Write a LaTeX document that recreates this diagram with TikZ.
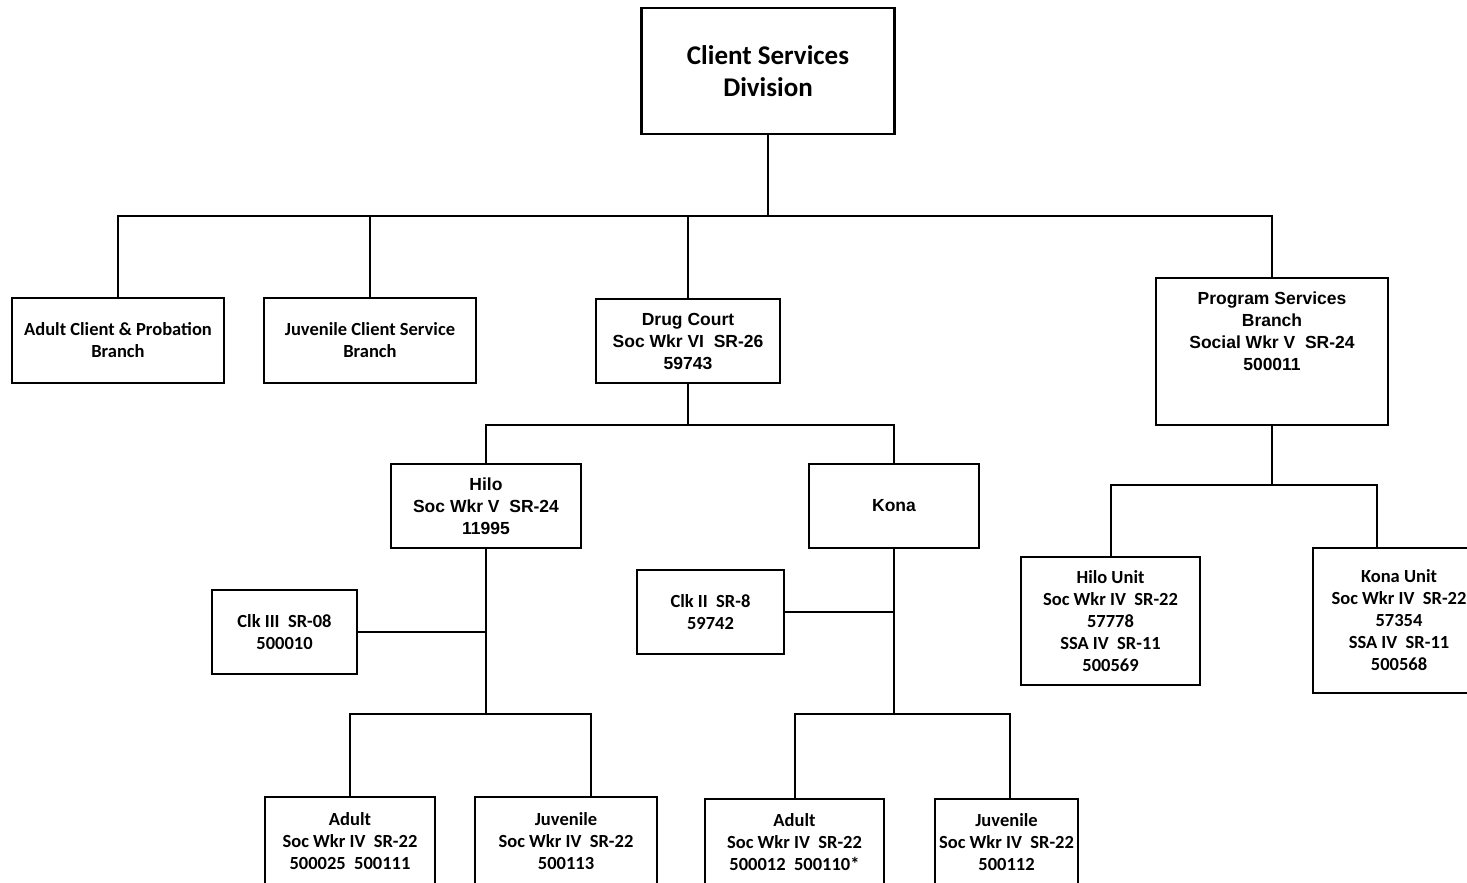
\documentclass[tikz,border=0pt]{standalone}
\usepackage{fontspec}
\setmainfont{Carlito}
\newfontfamily\arialfont{Liberation Sans}
\usetikzlibrary{positioning}

\tikzset{
    box/.style={draw, line width=2.4pt, fill=white, align=center, inner sep=1pt,
        font=\bfseries\fontsize{18.5}{22}\selectfont},
    abox/.style={box, font=\arialfont\bfseries\fontsize{17.5}{22}\selectfont},
    link/.style={line width=2pt}
}

\begin{document}
\begin{tikzpicture}[x=1pt, y=-1pt]

% Page
\useasboundingbox (0,0) rectangle (1467,883);
\clip (0,0) rectangle (1467,883);

% Division
\node[box, minimum width=253, minimum height=126,
      font=\bfseries\fontsize{27}{32}\selectfont] (csd) at (768,71) {Client Services\\Division};

% Branches
\node[box, minimum width=212, minimum height=85] (adultcl) at (118,340.5) {Adult Client \& Probation\\Branch};
\node[box, minimum width=212, minimum height=85] (juvcl) at (370,340.5) {Juvenile Client Service\\Branch};
\node[abox, minimum width=184, minimum height=84] (drug) at (688,341) {Drug Court\\Soc Wkr VI\ \ SR-26\\59743};
\node[abox, minimum width=232, minimum height=147] (prog) at (1272,351.5) {};
\node[abox, draw=none, fill=none, below=13pt of prog.north] (progtxt) {Program Services\\Branch\\Social Wkr V\ \ SR-24\\500011};

% Drug court units
\node[abox, minimum width=190, minimum height=84] (hilo) at (486,506) {Hilo\\Soc Wkr V\ \ SR-24\\11995};
\node[abox, minimum width=170, minimum height=84] (kona) at (894,506) {Kona};
\node[box, minimum width=145, minimum height=84] (clkthree) at (284.5,632) {Clk III\ \ SR-08\\500010};
\node[box, minimum width=147, minimum height=84] (clktwo) at (710.5,612) {Clk II\ \ SR-8\\59742};

% Program services units
\node[box, minimum width=179, minimum height=128] (hunit) at (1110.5,621) {Hilo Unit\\Soc Wkr IV\ \ SR-22\\57778\\SSA IV\ \ SR-11\\500569};
\node[box, minimum width=172, minimum height=145] (kunit) at (1399,620.5) {Kona Unit\\Soc Wkr IV\ \ SR-22\\57354\\SSA IV\ \ SR-11\\500568};

% Bottom row
\node[box, minimum width=170, minimum height=89] (hadult) at (350,841.5) {Adult\\Soc Wkr IV\ \ SR-22\\500025\ \ 500111};
\node[box, minimum width=182, minimum height=89] (hjuv) at (566,841.5) {Juvenile\\Soc Wkr IV\ \ SR-22\\500113};
\node[box, minimum width=179, minimum height=87] (kadult) at (794.5,842.5) {Adult\\Soc Wkr IV\ \ SR-22\\500012\ \ 500110*};
\node[box, minimum width=143, minimum height=87] (kjuv) at (1006.5,842.5) {Juvenile\\Soc Wkr IV\ \ SR-22\\500112};

% Bus lines
\coordinate (busA) at (768,216);
\coordinate (busB) at (688,425);
\coordinate (busC) at (1272,485);

% Division to branches
\draw[link] (csd.south) -- (busA);
\draw[link] (adultcl.north) |- (busA) -| (prog.north);
\draw[link] (juvcl.north) -- (juvcl.north |- busA);
\draw[link] (drug.north) -- (drug.north |- busA);

% Drug court
\draw[link] (drug.south) -- (busB);
\draw[link] (hilo.north) |- (busB) -| (kona.north);

% Hilo
\coordinate (busD) at (486,714);
\draw[link] (hilo.south) -- (busD);
\draw[link] (clkthree.east) -- (clkthree.east -| hilo.south);
\draw[link] (hadult.north) |- (busD) -| ([xshift=25pt]hjuv.north);

% Kona
\coordinate (busE) at (894,714);
\draw[link] (kona.south) -- (busE);
\draw[link] (clktwo.east) -- (clktwo.east -| kona.south);
\draw[link] (kadult.north) |- (busE) -| ([xshift=3.5pt]kjuv.north);

% Program services
\draw[link] (prog.south) -- (busC);
\draw[link] (hunit.north) |- (busC) -| ([xshift=-22pt]kunit.north);

\end{tikzpicture}
\end{document}
